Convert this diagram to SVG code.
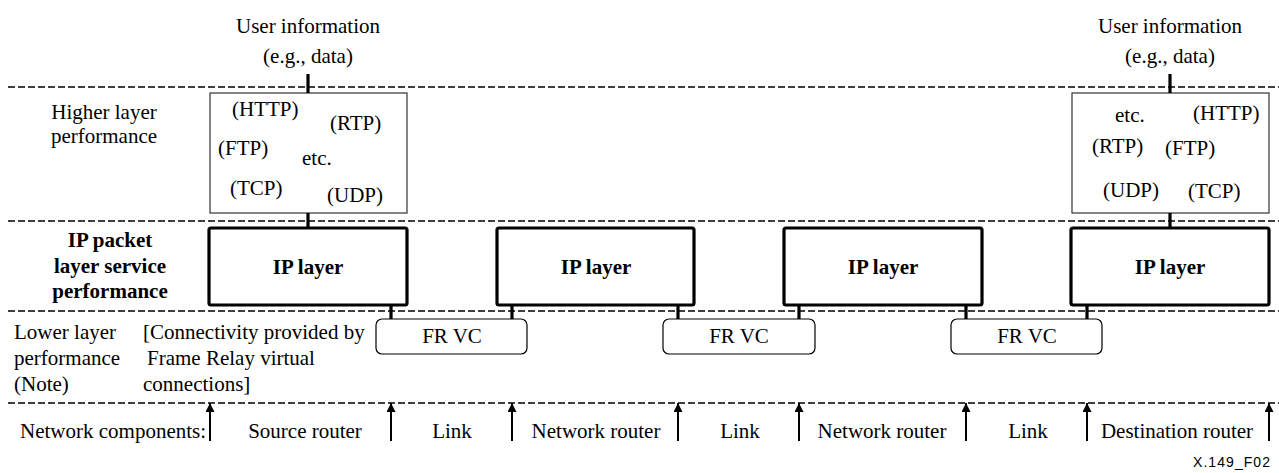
<svg xmlns="http://www.w3.org/2000/svg" width="1279" height="473" viewBox="0 0 1279 473" font-family="Liberation Serif, Times New Roman, serif" font-size="21">
<style>
.b{font-weight:bold}
.m{text-anchor:middle}
.dash{stroke:#000;stroke-width:1.6;stroke-dasharray:7 3;fill:none}
.hl{fill:#fff;stroke:#333;stroke-width:1.2}
.ip{fill:#fff;stroke:#000;stroke-width:3.2}
.fr{fill:#fff;stroke:#000;stroke-width:1.2}
.conn{stroke:#000;stroke-width:3.2;fill:none}
.arr{stroke:#000;stroke-width:2;fill:none;marker-end:url(#ah)}
</style>
<defs>
<marker id="ah" viewBox="0 0 10 10" refX="10" refY="5" markerWidth="5.5" markerHeight="4.5" orient="auto" markerUnits="strokeWidth">
<path d="M0,0 L10,5 L0,10 z" fill="#000"/>
</marker>
</defs>
<rect width="1279" height="473" fill="#fff"/>

<g id="layer-lines">
<line class="dash" x1="8" y1="87" x2="1279" y2="87"/>
<line class="dash" x1="8" y1="221" x2="1279" y2="221"/>
<line class="dash" x1="8" y1="311" x2="1279" y2="311"/>
<line class="dash" x1="8" y1="403" x2="1279" y2="403"/>
</g>

<g id="row-labels">
<text class="m" x="104" y="119">Higher layer</text>
<text class="m" x="104" y="143">performance</text>
<text class="b m" x="110" y="247">IP packet</text>
<text class="b m" x="110" y="273">layer service</text>
<text class="b m" x="110" y="298">performance</text>
<text x="14" y="339">Lower layer</text>
<text x="14" y="365">performance</text>
<text x="14" y="391">(Note)</text>
<text x="143" y="339">[Connectivity provided by</text>
<text x="147" y="365">Frame Relay virtual</text>
<text x="143" y="391">connections]</text>
<text x="20" y="438">Network components:</text>
</g>

<g id="user-info-left">
<text class="m" x="308" y="33">User information</text>
<text class="m" x="308" y="63">(e.g., data)</text>
</g>
<g id="user-info-right">
<text class="m" x="1170" y="33">User information</text>
<text class="m" x="1170" y="63">(e.g., data)</text>
</g>

<g id="higher-left">
<rect class="hl" x="210" y="93" width="197" height="120"/>
<text x="232" y="116">(HTTP)</text>
<text x="330" y="130">(RTP)</text>
<text x="218" y="155">(FTP)</text>
<text x="302" y="165">etc.</text>
<text x="230" y="195">(TCP)</text>
<text x="327" y="202">(UDP)</text>
</g>
<g id="higher-right">
<rect class="hl" x="1072" y="93" width="197" height="120"/>
<text x="1115" y="122">etc.</text>
<text x="1193" y="120">(HTTP)</text>
<text x="1092" y="153">(RTP)</text>
<text x="1165" y="155">(FTP)</text>
<text x="1103" y="197">(UDP)</text>
<text x="1188" y="198">(TCP)</text>
</g>

<g id="ip1"><rect class="ip" x="209" y="228" width="198" height="77" rx="2"/><text class="b m" x="308" y="274">IP layer</text></g>
<g id="ip2"><rect class="ip" x="497" y="228" width="197" height="77" rx="2"/><text class="b m" x="596" y="274">IP layer</text></g>
<g id="ip3"><rect class="ip" x="784" y="228" width="198" height="77" rx="2"/><text class="b m" x="883" y="274">IP layer</text></g>
<g id="ip4"><rect class="ip" x="1071" y="228" width="198" height="77" rx="2"/><text class="b m" x="1170" y="274">IP layer</text></g>

<g id="frvc1"><rect class="fr" x="376" y="319" width="151" height="35" rx="6"/><text class="m" x="452" y="343">FR VC</text></g>
<g id="frvc2"><rect class="fr" x="663" y="319" width="152" height="35" rx="6"/><text class="m" x="739" y="343">FR VC</text></g>
<g id="frvc3"><rect class="fr" x="951" y="319" width="151" height="35" rx="6"/><text class="m" x="1027" y="343">FR VC</text></g>

<g id="connectors">
<line class="conn" x1="308" y1="74" x2="308" y2="93"/>
<line class="conn" x1="308" y1="213" x2="308" y2="228"/>
<line class="conn" x1="1170" y1="74" x2="1170" y2="93"/>
<line class="conn" x1="1170" y1="213" x2="1170" y2="228"/>
<line class="conn" x1="391" y1="305" x2="391" y2="319"/>
<line class="conn" x1="512" y1="305" x2="512" y2="319"/>
<line class="conn" x1="678" y1="305" x2="678" y2="319"/>
<line class="conn" x1="799" y1="305" x2="799" y2="319"/>
<line class="conn" x1="966" y1="305" x2="966" y2="319"/>
<line class="conn" x1="1087" y1="305" x2="1087" y2="319"/>
<line class="arr" x1="210" y1="441" x2="210" y2="403"/>
<line class="arr" x1="391" y1="441" x2="391" y2="403"/>
<line class="arr" x1="512" y1="441" x2="512" y2="403"/>
<line class="arr" x1="678" y1="441" x2="678" y2="403"/>
<line class="arr" x1="799" y1="441" x2="799" y2="403"/>
<line class="arr" x1="966" y1="441" x2="966" y2="403"/>
<line class="arr" x1="1087" y1="441" x2="1087" y2="403"/>
<line class="arr" x1="1269" y1="441" x2="1269" y2="403"/>
</g>

<g id="component-labels">
<text class="m" x="305" y="438">Source router</text>
<text class="m" x="452" y="438">Link</text>
<text class="m" x="596" y="438">Network router</text>
<text class="m" x="740" y="438">Link</text>
<text class="m" x="882" y="438">Network router</text>
<text class="m" x="1028" y="438">Link</text>
<text class="m" x="1177" y="438">Destination router</text>
</g>

<text font-family="Liberation Sans, Arial, sans-serif" font-size="14" x="1193" y="467" textLength="77">X.149_F02</text>
</svg>
